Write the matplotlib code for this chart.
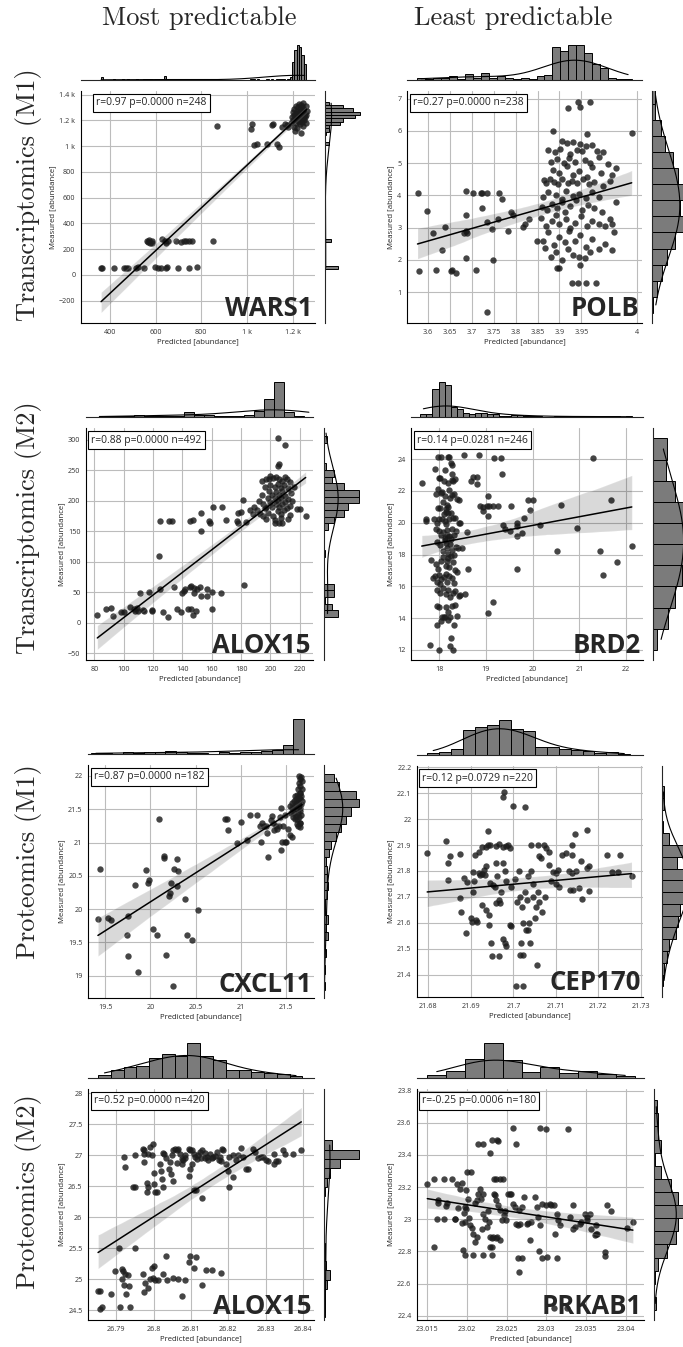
import matplotlib
matplotlib.use("Agg")
import matplotlib.pyplot as plt
from matplotlib.ticker import EngFormatter, MultipleLocator, FixedLocator, FixedFormatter
import seaborn as sns

sns.set_style("white")
plt.rcParams['font.family'] = ['Open Sans', 'DejaVu Sans']

W, H = 683, 1347

col_titles = ["Most predictable", "Least predictable"]
row_labels = ["Transcriptomics (M1)", "Transcriptomics (M2)", "Proteomics (M1)", "Proteomics (M2)"]

# ---------------- WARS1 (transcriptomics M1, most) ----------------
wars1_pred = [361, 364, 419, 461, 470, 477, 514, 521, 549, 597, 612, 623, 644, 649, 699, 746, 780,
              561, 565, 571, 575, 582, 584, 626, 641, 645, 653, 688, 711, 722, 733, 745, 758, 853,
              869, 1016, 1020, 1031, 1045, 1086, 1108, 1115, 1130, 1142, 1152, 1166, 1177, 1181,
              1195, 1198, 1200, 1203, 1205, 1207, 1208, 1210, 1211, 1213, 1214, 1216, 1217, 1219, 1220,
              1221, 1222, 1224, 1225, 1226, 1227, 1228, 1229, 1230, 1231, 1232, 1233, 1234, 1235, 1236,
              1237, 1238, 1239, 1240, 1241, 1242, 1243, 1244, 1245, 1246, 1247, 1248, 1250, 1251, 1253,
              1255, 1257, 1258, 1260, 1262]
wars1_meas = [52, 57, 52, 55, 52, 55, 57, 62, 52, 62, 55, 52, 57, 60, 57, 52, 60,
              266, 258, 268, 250, 262, 245, 280, 262, 245, 262, 260, 258, 262, 265, 263, 263, 260,
              1154, 1135, 1174, 1006, 1014, 1014, 1161, 1174, 1014, 993, 1148, 1174, 1161, 1150,
              1180, 1230, 1265, 1205, 1150, 1240, 1290, 1120, 1215, 1260, 1180, 1310, 1235, 1200, 1275,
              1140, 1250, 1225, 1300, 1190, 1330, 1260, 1215, 1240, 1170, 1285, 1230, 1255, 1205, 1320,
              1245, 1100, 1270, 1225, 1185, 1300, 1250, 1215, 1335, 1265, 1160, 1235, 1290, 1200, 1255,
              1225, 1310, 1180, 1245, 1275]
# marginal histograms: bar position -> bar count
wars1_top_at = [361, 419, 461, 477, 514, 521, 549, 561, 571, 582, 597, 612, 623, 641, 653, 688, 699,
                711, 733, 746, 758, 780, 853, 869, 1016, 1031, 1045, 1086, 1108, 1115, 1130, 1142,
                1152, 1166, 1177, 1187, 1202, 1212, 1222, 1232, 1243, 1253]
wars1_top_n = [4, 1, 1, 1, 1, 1, 1, 1, 1, 2, 1, 1, 1, 5, 1, 1, 1,
               1, 1, 1, 1, 1, 1, 1, 1, 1, 1, 1, 1, 1, 1, 2,
               1, 2, 2, 4, 26, 42, 50, 47, 35, 23]
wars1_right_at = [55, 263, 1014, 1099, 1125, 1151, 1177, 1203, 1229, 1255, 1281, 1307, 1333]
wars1_right_n = [19, 9, 5, 2, 5, 5, 21, 26, 43, 50, 40, 26, 6]

# ---------------- POLB (transcriptomics M1, least) ----------------
polb_pred = [3.576, 3.579, 3.597, 3.612, 3.618, 3.633, 3.639, 3.653, 3.655, 3.664, 3.682, 3.687, 3.687,
             3.687, 3.689, 3.687, 3.702, 3.71, 3.721, 3.724, 3.724, 3.735, 3.734, 3.734, 3.745, 3.749,
             3.759, 3.763, 3.768, 3.783, 3.789, 3.794, 3.818, 3.821, 3.831, 3.848,
             3.905, 3.918, 3.93, 3.948, 3.96, 3.975,
             3.873, 3.89, 3.902, 3.925, 3.94, 3.952, 3.985, 4.0,
             3.88, 3.895, 3.91, 3.922, 3.935, 3.958, 3.97, 3.99, 4.01, 4.03,
             3.865, 3.885, 3.9, 3.918, 3.93, 3.945, 3.962, 3.975, 3.995, 4.02,
             3.87, 3.878, 3.888, 3.897, 3.905, 3.92, 3.928, 3.94, 3.955, 3.968, 3.98, 4.0, 4.015,
             3.862, 3.875, 3.892, 3.905, 3.915, 3.93, 3.945, 3.96, 3.975, 3.99, 4.03,
             3.86, 3.872, 3.883, 3.895, 3.905, 3.912, 3.925, 3.938, 3.952, 3.965, 3.98, 3.998,
             3.858, 3.87, 3.882, 3.892, 3.9, 3.915, 3.925, 3.935, 3.95, 3.962, 3.975, 3.99, 4.005, 4.015,
             4.025, 4.02,
             3.862, 3.875, 3.888, 3.9, 3.912, 3.922, 3.935, 3.948, 3.96, 3.975, 3.99, 4.005, 4.02,
             3.868, 3.88, 3.893, 3.905, 3.92, 3.932, 3.945, 3.958, 3.97,
             3.895, 3.9, 3.948, 3.928, 3.943, 3.961, 3.984,
             3.886, 3.92, 3.942, 3.947, 3.971, 3.964, 4.065]
polb_meas = [4.08, 1.64, 3.52, 2.82, 1.67, 2.31, 3.02, 1.65, 1.68, 1.59, 2.82, 4.14, 3.40,
             2.90, 2.82, 2.06, 4.08, 1.69, 4.08, 4.08, 3.60, 4.08, 3.18, 0.38, 2.96, 2.0,
             3.27, 4.08, 3.88, 2.88, 3.50, 3.40, 3.03, 3.10, 3.28, 2.60,
             5.68, 5.62, 5.66, 5.6, 5.52, 5.55,
             5.4, 5.35, 5.45, 5.3, 5.42, 5.38, 5.38, 5.35,
             5.05, 5.12, 5.0, 5.15, 5.05, 5.1, 5.02, 5.2, 4.96, 4.85,
             4.47, 4.8, 4.7, 4.9, 4.62, 4.75, 4.58, 4.88, 4.7, 4.62,
             4.38, 4.5, 4.42, 4.35, 4.5, 4.4, 4.45, 4.38, 4.5, 4.35, 4.42, 4.3, 4.45,
             3.95, 4.1, 4.02, 3.9, 4.15, 3.98, 4.05, 3.92, 4.12, 3.95, 3.78,
             3.65, 3.55, 3.72, 3.6, 3.8, 3.5, 3.68, 3.85, 3.55, 3.7, 3.62, 3.5,
             3.3, 3.05, 3.2, 3.38, 3.1, 3.28, 3.0, 3.15, 3.35, 3.05, 3.22, 3.1, 3.05, 3.28,
             2.85, 3.1,
             2.6, 2.85, 2.45, 2.7, 2.55, 2.9, 2.6, 2.78, 2.4, 2.65, 2.35, 2.5, 2.32,
             2.38, 2.1, 2.25, 2.0, 2.35, 2.15, 2.1, 2.05, 2.25,
             1.75, 1.75, 1.85, 1.27, 1.27, 1.27, 1.27,
             6.0, 6.72, 6.9, 6.74, 6.9, 5.92, 5.94]
polb_top = [2, 1, 2, 2, 3, 1, 5, 2, 6, 2, 3, 2, 1, 2, 1, 3, 4, 28, 25, 30, 30, 23, 14, 10, 2, 1, 1]
polb_right = [1, 5, 9, 14, 22, 33, 26, 32, 24, 20, 12, 8, 3, 3]
polb_xticks = [3.6, 3.65, 3.7, 3.75, 3.8, 3.85, 3.9, 3.95, 4.077]
polb_xticklabels = ["3.6", "3.65", "3.7", "3.75", "3.8", "3.85", "3.9", "3.95", "4"]

# ---------------- ALOX15 (transcriptomics M2, most) ----------------
talox_pred = [82, 88, 91, 93, 98, 100, 104, 107, 108, 109, 110, 111, 113, 114, 117, 119, 119, 125, 127, 130,
              134, 136, 139, 140, 141, 142, 144, 145, 146, 146, 147, 148, 148, 149, 150, 152, 153, 157, 157, 160,
              160, 166, 182,
              124, 125, 131, 133, 145, 147, 153, 153, 158, 159, 161, 167, 170, 177, 178, 178, 180, 181, 183, 186,
              188, 189,
              191, 192, 193, 194, 195, 196, 196, 197, 198, 198, 199, 199, 200, 200, 201, 201, 202, 202, 203, 203,
              204, 204, 204, 205, 205, 205, 206, 206, 206, 207, 207, 207, 208, 208, 208, 209, 209, 210, 210, 211,
              211, 212, 212, 213, 213, 214, 215, 216, 194, 197, 200, 203, 207, 210, 213,
              205, 210, 206, 205, 224, 218, 220, 212, 208, 206, 203, 197, 195]
talox_meas = [12, 22, 24, 11, 17, 18, 25, 22, 19, 24, 20, 49, 21, 20, 50, 19, 21, 56, 17, 10,
              59, 23, 18, 48, 52, 55, 23, 58, 61, 22, 13, 57, 49, 19, 56, 58, 44, 44, 56, 23,
              51, 49, 62,
              110, 166, 166, 166, 166, 168, 150, 179, 166, 163, 190, 190, 168, 166, 163, 179, 182, 201, 165, 185,
              178, 190,
              185, 200, 178, 210, 195, 222, 188, 235, 205, 180, 215, 236, 198, 226, 190, 210, 237, 175, 205, 222,
              195, 214, 238, 183, 228, 200, 210, 190, 236, 220, 178, 204, 195, 232, 215, 185, 225, 208, 198, 236,
              188, 220, 203, 192, 230, 212, 200, 222, 232, 190, 240, 168, 172, 238, 176,
              302, 291, 260, 256, 175, 187, 186, 170, 163, 163, 163, 170, 175]
talox_top = [1, 3, 2, 2, 5, 4, 4, 3, 4, 16, 7, 6, 3, 2, 4, 5, 18, 55, 110, 16, 4, 1]
talox_right = [14, 8, 1, 10, 10, 0, 0, 0, 0, 1, 0, 0, 0, 4, 10, 20, 24, 35, 35, 20, 8, 10, 2, 0, 0, 0, 3, 0]

# ---------------- BRD2 (transcriptomics M2, least) ----------------
brd2_pred = [17.63, 17.72, 17.72, 17.82, 17.81, 18.0, 18.23, 18.26, 18.3, 17.95,
             18.53, 18.86, 19.17, 19.32, 19.35, 18.68, 18.82, 18.82, 18.72, 19.04,
             18.87, 18.94, 19.02, 19.07, 19.16, 19.26, 18.93, 19.04, 19.53, 19.9,
             20.01, 19.94, 19.82, 19.66, 19.67, 19.51, 19.37, 19.42, 19.78, 19.66,
             20.15, 19.66, 19.16, 19.05, 20.53, 20.6, 20.95, 21.3, 21.45, 21.5,
             21.67, 21.8, 22.12, 18.62, 18.48, 18.55, 18.45, 18.6,
             17.97, 18.04, 18.2, 18.22,
             17.91, 18.12, 18.26, 18.27, 18.27, 18.3,
             18.0, 18.02, 18.1, 18.19, 18.22, 18.27, 18.33, 17.97, 18.06,
             17.93, 18.04, 18.12, 18.16, 18.2, 18.24, 18.28, 18.31, 18.38, 18.43, 17.98, 18.03, 18.08, 18.14,
             17.9, 17.95, 18.0, 18.06, 18.1, 18.15, 18.2, 18.22, 18.26, 18.3, 18.35, 18.42, 18.45, 18.12,
             17.93, 18.0, 18.05, 18.09, 18.13, 18.17, 18.21, 18.25, 18.28, 18.32, 18.36, 18.15, 18.18,
             17.96, 18.03, 18.08, 18.12, 18.16, 18.2, 18.24, 18.28, 18.31, 18.36, 18.41, 18.15,
             17.93, 17.98, 18.04, 18.09, 18.14, 18.17, 18.21, 18.25, 18.3, 18.33, 18.2,
             17.87, 17.92, 17.96, 18.0, 18.05, 18.1, 18.14, 18.18, 18.22, 18.27, 18.32, 18.38, 18.02,
             17.95, 18.03, 18.09, 18.14, 18.19, 18.24, 18.29, 18.35, 18.42,
             17.96, 18.0, 18.06, 18.1, 18.15, 18.2, 18.24, 18.28, 18.33, 18.38, 18.12,
             18.05, 18.2, 18.31]
brd2_meas = [22.47, 20.2, 20.1, 17.66, 12.3, 12.0, 12.27, 12.78, 12.0, 13.55,
             24.23, 24.27, 24.06, 24.06, 23.08, 22.6, 22.4, 22.9, 22.9, 21.69,
             21.06, 20.96, 21.02, 21.06, 21.06, 21.06, 20.75, 20.43, 21.06, 21.44,
             21.44, 20.81, 20.29, 20.0, 19.8, 19.45, 19.87, 19.62, 19.38, 19.17,
             19.87, 17.1, 15.04, 14.33, 18.21, 21.08, 19.68, 24.06, 18.19, 16.72,
             21.44, 17.52, 18.55, 17.1, 18.4, 15.5, 15.45, 19.4,
             24.12, 24.12, 24.1, 24.15,
             23.35, 23.3, 23.72, 23.6, 23.05, 22.65,
             22.8, 22.8, 22.62, 22.5, 22.05, 22.7, 22.72, 22.12, 21.95,
             21.82, 21.85, 21.7, 21.12, 21.0, 21.55, 21.75, 21.8, 21.5, 21.45, 20.95, 20.95, 21.3, 20.85,
             20.25, 20.0, 20.2, 20.25, 20.55, 20.65, 20.6, 20.2, 20.6, 20.3, 20.3, 20.0, 19.95, 20.1,
             19.6, 19.5, 19.25, 19.4, 19.05, 19.55, 19.15, 19.0, 19.6, 19.25, 19.45, 19.9, 19.2,
             18.8, 18.6, 18.2, 18.9, 18.4, 18.05, 18.65, 18.3, 18.0, 18.5, 18.4, 18.7,
             17.4, 17.1, 17.6, 17.85, 17.3, 17.6, 17.2, 17.9, 17.5, 17.05, 17.75,
             16.5, 16.65, 16.3, 16.7, 16.45, 16.6, 16.8, 16.3, 16.65, 16.55, 16.2, 16.9, 16.15,
             15.8, 15.6, 15.9, 15.5, 15.8, 15.3, 15.6, 15.7, 15.4,
             14.75, 14.7, 14.1, 14.05, 14.7, 14.4, 14.05, 14.75, 14.8, 14.15, 14.05,
             13.8, 13.9, 13.55]
brd2_top = [4, 4, 40, 50, 45, 14, 12, 5, 4, 5, 5, 4, 4, 2, 2, 3, 3, 2, 2, 1,
            0, 0, 1, 1, 1, 0, 1, 0, 1, 1, 1, 1, 1, 0, 1]
brd2_right = [4, 15, 22, 30, 35, 36, 34, 22, 13, 14]

# ---------------- CXCL11 (proteomics M1, most) ----------------
cxcl11_pred = [19.42, 19.44, 19.53, 19.56, 19.75, 19.74, 19.75, 19.83, 19.86, 19.95,
               19.97, 19.98, 20.03, 20.07, 20.09, 20.15, 20.15, 20.17, 20.21, 20.22,
               20.23, 20.25, 20.26, 20.29, 20.30, 20.31, 20.38, 20.41, 20.46, 20.53,
               20.83, 20.85, 20.86, 20.96, 21.0, 21.07, 21.10, 21.18, 21.21, 21.22,
               21.26, 21.29, 21.30, 21.33, 21.34, 21.37, 21.39, 21.42, 21.43, 21.45,
               21.44, 21.46, 21.49, 21.50, 21.47, 21.49, 21.52, 21.54, 21.57, 21.36,
               21.40, 21.28, 21.24,
               21.55, 21.56, 21.57, 21.58, 21.58, 21.59, 21.59, 21.6, 21.6, 21.61,
               21.61, 21.61, 21.62, 21.62, 21.62, 21.63, 21.63, 21.63, 21.64, 21.64,
               21.64, 21.64, 21.65, 21.65, 21.65, 21.65, 21.66, 21.66, 21.66, 21.66,
               21.67, 21.67, 21.67, 21.67, 21.68, 21.68, 21.68, 21.63, 21.65, 21.66,
               21.62, 21.64, 21.6, 21.57, 21.66]
cxcl11_meas = [19.855, 20.6, 19.865, 19.84, 19.89, 19.615, 19.3, 20.355, 19.055, 20.59,
               20.39, 20.44, 19.705, 19.605, 21.355, 20.805, 20.765, 19.305, 20.19, 20.24,
               20.39, 18.84, 20.6, 20.755, 20.34, 20.58, 20.15, 19.615, 19.53, 19.99,
               21.35, 21.35, 21.19, 21.0, 21.315, 21.04, 21.415, 21.415, 21.25, 21.015,
               21.255, 21.15, 20.78, 21.34, 21.405, 21.19, 21.255, 21.255, 21.39, 21.525,
               20.89, 21.005, 21.005, 21.005, 21.255, 21.415, 21.21, 21.115, 21.09, 21.3,
               21.2, 21.25, 21.3,
               21.55, 21.45, 21.6, 21.5, 21.38, 21.62, 21.45, 21.55, 21.7, 21.4,
               21.58, 21.65, 21.5, 21.72, 21.35, 21.62, 21.8, 21.45, 21.55, 21.68,
               21.9, 21.38, 21.6, 21.75, 21.48, 21.95, 21.52, 21.66, 21.85, 21.3,
               21.58, 21.7, 21.98, 21.42, 21.62, 21.8, 21.92, 21.25, 21.3, 21.24,
               21.28, 22.0, 21.35, 21.52, 21.75]
cxcl11_top = [2, 2, 0, 4, 2, 4, 4, 6, 4, 2, 1, 0, 3, 1, 3, 3, 5, 8, 18, 70]
cxcl11_right = [1, 0, 1, 0, 2, 0, 4, 2, 4, 1, 1, 3, 4, 3, 3, 2, 5, 7, 12, 17, 22, 27, 35, 32, 15, 10]

# ---------------- CEP170 (proteomics M1, least) ----------------
cep170_pred = [21.6797, 21.6841, 21.6846, 21.6846, 21.685, 21.6875, 21.6877, 21.6875, 21.6888, 21.6883,
               21.6891, 21.69, 21.6902, 21.6904, 21.6907, 21.6905, 21.6912, 21.6915, 21.691, 21.692,
               21.6919, 21.6922, 21.6926, 21.693, 21.6932, 21.6927, 21.6936, 21.694, 21.6945, 21.6941,
               21.6948, 21.695, 21.6936, 21.6942, 21.6942, 21.6944, 21.6952, 21.6956, 21.696, 21.6966,
               21.6969, 21.696, 21.6966, 21.6975, 21.6983, 21.6987, 21.6992, 21.6977, 21.6975, 21.6998,
               21.7028, 21.6962, 21.6975, 21.6983, 21.6971, 21.6979, 21.6966, 21.6975, 21.698, 21.6983,
               21.6991, 21.6995, 21.7006, 21.7022, 21.7016, 21.7022, 21.7018, 21.7022, 21.703, 21.7034,
               21.7036, 21.7038, 21.7008, 21.7016, 21.702, 21.7027, 21.7033, 21.7045, 21.7053, 21.7061,
               21.7041, 21.7059, 21.7073, 21.7055, 21.7061, 21.7065, 21.7077, 21.7083, 21.7084, 21.7092,
               21.71, 21.7104, 21.7114, 21.7123, 21.7139, 21.7139, 21.7145, 21.7174, 21.7159, 21.7174,
               21.7178, 21.7131, 21.7139, 21.7148, 21.7133, 21.714, 21.7155, 21.7161, 21.7177, 21.7221,
               21.7252, 21.7233, 21.7245, 21.7278, 21.71, 21.7108, 21.7088, 21.7075, 21.7068, 21.705,
               21.7047, 21.7035, 21.7042, 21.7058, 21.7012, 21.7003, 21.6995, 21.6958, 21.6935, 21.6925]
cep170_meas = [21.869, 21.914, 21.83, 21.764, 21.856, 21.865, 21.642, 21.696, 21.561, 21.773,
               21.757, 21.618, 21.603, 21.798, 21.76, 21.72, 21.612, 21.603, 21.862, 21.875,
               21.792, 21.785, 21.789, 21.805, 21.785, 21.894, 21.894, 21.9, 21.9, 21.956,
               21.522, 21.473, 21.65, 21.631, 21.593, 21.753, 21.747, 21.74, 21.676, 21.689,
               21.676, 21.897, 21.903, 21.894, 21.897, 21.9, 21.89, 22.104, 22.087, 22.051,
               22.045, 21.78, 21.83, 21.76, 21.72, 21.8, 21.471, 21.538, 21.522, 21.509,
               21.593, 21.586, 21.355, 21.355, 21.475, 21.475, 21.522, 21.599, 21.574, 21.574,
               21.599, 21.522, 21.68, 21.7, 21.66, 21.72, 21.69, 21.7, 21.66, 21.68,
               21.9, 21.9, 21.9, 21.439, 21.856, 21.85, 21.888, 21.875, 21.824, 21.798,
               21.792, 21.805, 21.862, 21.869, 21.862, 21.9, 21.942, 21.959, 21.837, 21.811,
               21.82, 21.801, 21.794, 21.801, 21.725, 21.728, 21.734, 21.693, 21.721, 21.862,
               21.862, 21.798, 21.798, 21.782, 21.75, 21.74, 21.76, 21.7, 21.64, 21.62,
               21.75, 21.78, 21.8, 21.72, 21.8, 21.77, 21.74, 21.83, 21.82, 21.67]
cep170_top = [2, 3, 6, 26, 29, 31, 36, 27, 25, 8, 8, 6, 5, 4, 2, 3, 1]
cep170_right = [1, 2, 4, 6, 12, 14, 16, 28, 31, 31, 13, 27, 6, 1, 0, 2, 2]

# ---------------- ALOX15 (proteomics M2, most) ----------------
palox_pred = [26.7851, 26.7856, 26.7857, 26.7862, 26.7887, 26.7896, 26.7908, 26.7909, 26.7915, 26.7916,
              26.7918, 26.7921, 26.7923, 26.7926, 26.7931, 26.7933, 26.7937, 26.7951, 26.7971, 26.7975,
              26.7978, 26.7986, 26.7989, 26.7996, 26.7998, 26.8, 26.8004, 26.8013, 26.8024, 26.8034,
              26.8035, 26.8053, 26.8065, 26.8075, 26.8084, 26.8095, 26.8098, 26.8107, 26.8113, 26.813,
              26.814, 26.8157, 26.8181,
              26.7921, 26.7922, 26.7949, 26.7944, 26.7951, 26.7971, 26.7973, 26.7975, 26.7973, 26.7982,
              26.7986, 26.7982, 26.7986, 26.7991, 26.7995, 26.7998, 26.8, 26.8001, 26.8004, 26.8009,
              26.8016, 26.8019, 26.8024, 26.8029, 26.8022, 26.8026, 26.804, 26.8044, 26.8046, 26.8049,
              26.8053, 26.8058, 26.8062, 26.8066, 26.8051, 26.807, 26.8075, 26.8077, 26.8078, 26.8083,
              26.8094, 26.8098, 26.8103, 26.8107, 26.8111, 26.8094, 26.8098, 26.8103, 26.8109, 26.8114,
              26.813, 26.8115, 26.8119, 26.8124, 26.8126, 26.8131, 26.8138, 26.8142, 26.8147, 26.8151,
              26.8156, 26.8165, 26.8169, 26.8174, 26.8178, 26.8182, 26.8187, 26.8193, 26.8199, 26.8202,
              26.8202, 26.8213, 26.822, 26.8226, 26.8235, 26.8239, 26.8249, 26.8253, 26.8267, 26.8271,
              26.828, 26.8289, 26.8293, 26.8302, 26.8307, 26.8322, 26.8324, 26.8327, 26.8333, 26.8347,
              26.8351, 26.8373, 26.8396, 26.8085, 26.8062, 26.8033, 26.8137, 26.8158, 26.8181, 26.8212]
palox_meas = [24.81, 24.81, 24.51, 24.55, 24.76, 25.13, 25.5, 24.55, 25.16, 25.01,
              25.13, 24.9, 25.09, 24.76, 25.06, 24.89, 24.55, 25.5, 25.09, 24.8,
              24.93, 24.85, 25.01, 25.18, 25.02, 25.21, 24.99, 24.98, 25.09, 25.37,
              24.98, 25.02, 25.01, 24.73, 24.98, 25.28, 25.37, 25.18, 25.35, 24.9,
              25.14, 25.14, 25.1,
              26.98, 26.81, 27.0, 26.49, 26.49, 27.1, 27.02, 27.08, 26.89, 26.4,
              26.49, 26.56, 27.02, 27.13, 27.0, 27.18, 26.71, 26.54, 26.41, 26.41,
              26.86, 26.75, 27.03, 27.02, 26.62, 26.49, 26.78, 26.89, 26.7, 27.0,
              27.08, 27.1, 27.09, 27.1, 26.59, 27.02, 26.94, 26.86, 26.92, 27.0,
              27.1, 27.08, 27.09, 27.02, 26.97, 26.67, 26.78, 26.86, 26.44, 26.44,
              26.31, 26.94, 27.0, 27.05, 26.96, 27.08, 27.04, 26.98, 26.92, 27.02,
              26.96, 26.99, 27.05, 26.92, 26.98, 27.1, 27.08, 26.86, 26.75, 26.49,
              26.97, 27.0, 26.92, 27.0, 27.11, 26.97, 26.78, 26.78, 27.1, 27.05,
              26.95, 26.98, 26.97, 26.93, 26.91, 27.02, 26.86, 26.91, 26.9, 27.08,
              27.02, 27.02, 27.09, 26.95, 26.88, 26.95, 26.95, 26.97, 26.9, 26.65]
palox_top = [5, 14, 19, 21, 34, 41, 38, 60, 38, 30, 14, 13, 10, 8, 7, 3]
palox_right = [4, 3, 4, 9, 17, 6, 3, 2, 0, 0, 0, 0, 0, 4, 9, 15, 43, 95, 21]

# ---------------- PRKAB1 (proteomics M2, least) ----------------
prkab1_pred = [23.015, 23.0158, 23.0171, 23.0181, 23.0158, 23.0163, 23.0163, 23.0171, 23.0185, 23.0188,
               23.0191, 23.0194, 23.0199, 23.0195, 23.0197, 23.02, 23.0205, 23.0208, 23.0214, 23.022,
               23.022, 23.0231, 23.0231, 23.0238, 23.0239, 23.0229, 23.0234, 23.0237, 23.0241, 23.0245,
               23.0258, 23.0262, 23.0292, 23.03, 23.0327, 23.0264, 23.0269, 23.0265, 23.0291, 23.0294,
               23.0301, 23.0313, 23.0409, 23.0402, 23.0376, 23.0382, 23.0374, 23.0374, 23.0363, 23.0362,
               23.0364, 23.0349, 23.0351, 23.0351, 23.0355, 23.0356, 23.0361, 23.0162, 23.0173, 23.0175,
               23.0185, 23.0189, 23.0194, 23.0197, 23.0197, 23.0199, 23.0201, 23.0204, 23.0206, 23.0207,
               23.021, 23.0212, 23.021, 23.0212, 23.0214, 23.0216, 23.0218, 23.022, 23.022, 23.0223,
               23.0225, 23.0227, 23.0228, 23.0229, 23.0231, 23.0233, 23.0236, 23.0238, 23.0241, 23.0229,
               23.0232, 23.0234, 23.0235, 23.0237, 23.0239, 23.0241, 23.0244, 23.0246, 23.0248, 23.0249,
               23.0252, 23.0254, 23.0256, 23.0258, 23.026, 23.0262, 23.0264, 23.0266, 23.0267, 23.0269,
               23.0272, 23.0275, 23.0277, 23.0279, 23.0281, 23.0286, 23.0288, 23.029, 23.0292, 23.0295,
               23.0299, 23.0304, 23.0306, 23.0309, 23.0313, 23.0315, 23.0317, 23.0311, 23.033, 23.0334,
               23.0336, 23.0342, 23.0344, 23.0334, 23.0309, 23.0326, 23.022, 23.0196, 23.0203, 23.0219]
prkab1_meas = [23.221, 23.252, 23.252, 23.252, 22.828, 23.122, 23.101, 23.004, 22.999, 23.221,
               23.19, 23.225, 23.184, 22.81, 22.776, 23.293, 23.293, 22.776, 23.469, 23.469,
               22.776, 22.776, 23.49, 23.49, 23.484, 23.413, 23.252, 23.252, 23.252, 23.252,
               23.568, 23.469, 23.568, 23.562, 23.562, 22.756, 22.756, 22.669, 22.8, 22.756,
               22.766, 22.756, 22.983, 22.946, 23.086, 23.049, 22.797, 22.77, 22.962, 22.905,
               22.905, 23.035, 23.014, 22.993, 23.035, 22.936, 22.9, 23.0, 23.08, 23.1,
               23.0, 23.072, 22.977, 22.983, 23.076, 23.066, 23.128, 22.962, 22.948, 22.905,
               22.859, 22.89, 23.101, 23.122, 23.159, 23.19, 23.128, 23.159, 23.035, 23.004,
               22.952, 23.051, 22.983, 22.89, 22.88, 22.89, 22.88, 22.89, 22.869, 22.828,
               22.828, 23.159, 23.149, 23.118, 23.087, 23.056, 22.993, 23.024, 23.051, 22.993,
               23.159, 23.159, 23.159, 23.097, 23.076, 22.973, 22.962, 23.056, 22.973, 23.076,
               23.138, 22.973, 22.977, 22.869, 22.983, 23.138, 23.076, 23.014, 22.962, 23.097,
               23.087, 23.097, 23.087, 23.087, 23.035, 22.993, 22.962, 22.911, 23.014, 22.942,
               22.952, 22.973, 22.983, 23.087, 22.445, 22.445, 23.72, 23.04, 23.01, 22.94]
prkab1_top = [3, 8, 22, 40, 20, 7, 13, 6, 8, 5, 2]
prkab1_right = [2, 0, 1, 4, 14, 24, 26, 38, 26, 18, 8, 1, 8, 4, 4, 3]

stats = ["r=0.97 p=0.0000 n=248", "r=0.27 p=0.0000 n=238",
         "r=0.88 p=0.0000 n=492", "r=0.14 p=0.0281 n=246",
         "r=0.87 p=0.0000 n=182", "r=0.12 p=0.0729 n=220",
         "r=0.52 p=0.0000 n=420", "r=-0.25 p=0.0006 n=180"]
genes = ["WARS1", "POLB", "ALOX15", "BRD2", "CXCL11", "CEP170", "ALOX15", "PRKAB1"]


def px_box(l, t, r, b):
    return [l / W, 1 - b / H, (r - l) / W, (b - t) / H]


def marg_hist(ax, spec, vertical):
    # spec: (first bin edge, bin width, counts) or (edge, width, n bins, positions, counts)
    if len(spec) == 3:
        start, width, counts = spec
        nb = len(counts)
        vals = [start + width * (i + 0.5) for i in range(nb)]
    else:
        start, width, nb, vals, counts = spec
    edges = [start + width * i for i in range(nb + 1)]
    kw = dict(weights=counts, bins=edges, kde=True, ax=ax, color='black',
              facecolor='#7b7b7b', edgecolor='black', linewidth=0.7,
              line_kws={'linewidth': 0.8}, kde_kws={'cut': 0})
    if vertical:
        sns.histplot(y=vals, **kw)
    else:
        sns.histplot(x=vals, **kw)


# panel table: box in px (left, top, right, bottom), limits, tick steps, marginal bins
panels = [
    dict(x=wars1_pred, y=wars1_meas, box=(81, 91, 315, 323), xlim=(273, 1298), ylim=(-373, 1428),
         xstep=200, ystep=200, gap=10, boxdx=15,
         top=(350.2, 10.2, 90, wars1_top_at, wars1_top_n),
         right=(46, 26, 50, wars1_right_at, wars1_right_n)),
    dict(x=polb_pred, y=polb_meas, box=(407, 91, 642, 323), xlim=(3.552, 4.0886), ylim=(0.04, 7.24),
         xstep=None, ystep=1, gap=10, boxdx=6,
         top=(3.5749, 0.01819, polb_top), right=(0.35, 0.5, polb_right)),
    dict(x=talox_pred, y=talox_meas, box=(86, 428, 313, 660), xlim=(74.3, 229), ylim=(-61, 319),
         xstep=20, ystep=50, gap=11, boxdx=5,
         top=(80.0, 6.8, talox_top), right=(9.5, 10.95, talox_right)),
    dict(x=brd2_pred, y=brd2_meas, box=(411, 428, 643, 660), xlim=(17.40, 22.36), ylim=(11.37, 25.95),
         xstep=1, ystep=2, gap=10, boxdx=6,
         top=(17.6, 0.1295, brd2_top), right=(12.0, 1.33, brd2_right)),
    dict(x=cxcl11_pred, y=cxcl11_meas, box=(88, 765, 314, 998), xlim=(19.31, 21.81), ylim=(18.665, 22.165),
         xstep=0.5, ystep=0.5, gap=10, boxdx=6,
         top=(19.338, 0.118, cxcl11_top), right=(18.78, 0.125, cxcl11_right)),
    dict(x=cep170_pred, y=cep170_meas, box=(417, 766, 643, 997), xlim=(21.6773, 21.7305), ylim=(21.314, 22.205),
         xstep=0.01, ystep=0.1, gap=19, boxdx=5,
         top=(21.6797, 0.0028125, cep170_top), right=(21.355, 0.04546, cep170_right)),
    dict(x=palox_pred, y=palox_meas, box=(88, 1089, 314, 1320), xlim=(26.7824, 26.843), ylim=(24.34, 28.07),
         xstep=0.01, ystep=0.5, gap=10, boxdx=6,
         top=(26.7851, 0.003425, palox_top), right=(24.39, 0.15, palox_right)),
    dict(x=prkab1_pred, y=prkab1_meas, box=(417, 1089, 644, 1320), xlim=(23.0137, 23.0423), ylim=(22.373, 23.81),
         xstep=0.005, ystep=0.2, gap=10, boxdx=5,
         top=(23.015, 0.002375, prkab1_top), right=(22.435, 0.0816, prkab1_right)),
]

fig = plt.figure(figsize=(W / 100, H / 100), dpi=100)

tick_col = '#333333'


def set_x_ticks(ax, p):
    if p['xstep'] is None:
        ax.xaxis.set_major_locator(FixedLocator(polb_xticks))
        ax.xaxis.set_major_formatter(FixedFormatter(polb_xticklabels))
    else:
        ax.xaxis.set_major_locator(MultipleLocator(p['xstep']))
        ax.xaxis.set_major_formatter(EngFormatter(sep=' '))


for i, p in enumerate(panels):
    l, t, r, b = p['box']
    ax = fig.add_axes(px_box(l, t, r, b))
    ax_top = fig.add_axes(px_box(l, t - 48, r, t - 11))
    ax_rt = fig.add_axes(px_box(r + p['gap'], t, r + p['gap'] + 37, b))

    ax.set_axisbelow(True)
    ax.grid(True, color='#bcbcbc', linewidth=0.8)
    sns.regplot(x=p['x'], y=p['y'], ax=ax, color='black', seed=0,
                scatter_kws=dict(s=21, alpha=0.82, linewidths=0, color='#1c1c1c'),
                line_kws=dict(linewidth=1.1))
    ax.set_xlim(p['xlim'])
    ax.set_ylim(p['ylim'])
    set_x_ticks(ax, p)
    ax.yaxis.set_major_locator(MultipleLocator(p['ystep']))
    ax.yaxis.set_major_formatter(EngFormatter(sep=' '))
    for s in ['top', 'right']:
        ax.spines[s].set_visible(False)
    for s in ['left', 'bottom']:
        ax.spines[s].set_linewidth(0.8)
        ax.spines[s].set_color('black')
    ax.tick_params(axis='both', labelsize=5.2, length=2.5, width=0.6, pad=1.5, colors=tick_col)
    ax.set_xlabel("Predicted [abundance]", fontsize=5.6, labelpad=2, color='#222222')
    ax.set_ylabel("Measured [abundance]", fontsize=5.6, labelpad=2, color='#222222')

    w_px, h_px = r - l, b - t
    ax.text(p['boxdx'] / w_px, 1 - 6.5 / h_px, stats[i], transform=ax.transAxes,
            ha='left', va='top', fontsize=7.5, zorder=6,
            bbox=dict(boxstyle='square,pad=0.3', fc='white', ec='black', lw=0.8))
    ax.text(1 - 2.5 / w_px, 6.5 / h_px, genes[i], transform=ax.transAxes,
            ha='right', va='baseline', fontsize=18.5, fontweight='bold', zorder=7)

    # top marginal
    marg_hist(ax_top, p['top'], vertical=False)
    ax_top.set_xlim(p['xlim'])
    set_x_ticks(ax_top, p)
    ax_top.set_ylim(bottom=0)
    ax_top.set_yticks([])
    ax_top.set_xlabel('')
    ax_top.set_ylabel('')
    ax_top.tick_params(axis='x', labelbottom=False, length=2.5, width=0.6, colors=tick_col)
    for s in ['top', 'right', 'left']:
        ax_top.spines[s].set_visible(False)
    ax_top.spines['bottom'].set_linewidth(0.8)
    ax_top.patch.set_alpha(0)

    # right marginal
    marg_hist(ax_rt, p['right'], vertical=True)
    ax_rt.set_ylim(p['ylim'])
    ax_rt.yaxis.set_major_locator(MultipleLocator(p['ystep']))
    ax_rt.set_xlim(left=0)
    ax_rt.set_xticks([])
    ax_rt.set_xlabel('')
    ax_rt.set_ylabel('')
    ax_rt.tick_params(axis='y', labelleft=False, length=2.5, width=0.6, colors=tick_col)
    for s in ['top', 'right', 'bottom']:
        ax_rt.spines[s].set_visible(False)
    ax_rt.spines['left'].set_linewidth(0.8)
    ax_rt.patch.set_alpha(0)

# column titles and row labels
for x, txt in zip([199, 513], col_titles):
    fig.text(x / W, 1 - 18 / H, txt, ha='center', va='center', fontsize=19, family='cmr10')
for y, txt in zip([195, 528, 862, 1192], row_labels):
    fig.text(29 / W, 1 - y / H, txt, ha='center', va='center', rotation=90, fontsize=19, family='cmr10')

fig.savefig("out.png", dpi=100)
